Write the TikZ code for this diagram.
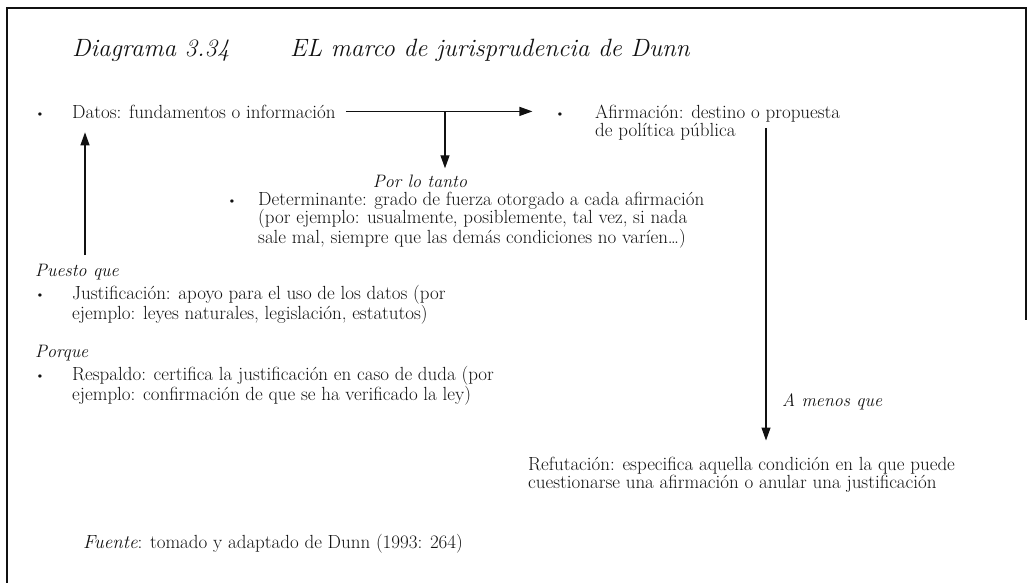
\documentclass[tikz,border=0pt]{standalone}
\usepackage{fontspec}
\usepackage{tikz}
\usetikzlibrary{arrows.meta,calc}
\definecolor{DunnInk}{HTML}{111111}

\begin{document}
\begin{tikzpicture}[
  x=1pt, y=-1pt,
  font=\fontsize{19}{18.5}\selectfont, text=DunnInk,
  itembox/.style={anchor=north west, align=left, inner sep=0pt},
  linebox/.style={anchor=base west, inner sep=0pt},
  lbl/.style={anchor=base west, inner sep=0pt, font=\fontsize{18}{18.5}\selectfont\itshape},
  bul/.style={anchor=base, inner sep=0pt, font=\fontsize{15}{15}\selectfont},
  ttl/.style={anchor=base west, inner sep=0pt, font=\fontsize{25}{28}\selectfont\itshape},
  ra/.style={-{Triangle[length=13pt, width=9pt]}, draw=DunnInk, line width=1.2pt},
  frm/.style={draw=DunnInk, line width=1.3pt}
]
\useasboundingbox (0,0) rectangle (1030,583);
\draw[frm] (7,583) -- (7,8) -- (1026,8) -- (1026,320);
% title
\node[ttl] (titnum) at (72,57) {Diagrama 3.34};
\node[ttl] (titname) at (290,57) {EL marco de jurisprudencia de Dunn};
% items
\node[bul] (bDat) at (40,118) {•};
\node[linebox] (datos) at (72,118) {Datos: fundamentos o información};
\node[bul] (bAf) at (560,118) {•};
\node[itembox] (afirm) at (595,104.5) {Afirmación: destino o propuesta\\de política pública};
\node[lbl, anchor=base] (tanto) at (420,187) {Por lo tanto};
\node[bul] (bDet) at (232,205) {•};
\node[itembox] (det) at (258,191.5) {Determinante: grado de fuerza otorgado a cada afirmación\\(por ejemplo: usualmente, posiblemente, tal vez, si nada\\sale mal, siempre que las demás condiciones no varíen\dots)};
\node[lbl] (puesto) at (35,276) {Puesto que};
\node[bul] (bJus) at (40,299) {•};
\node[itembox] (just) at (72,285.5) {Justificación: apoyo para el uso de los datos (por\\ejemplo: leyes naturales, legislación, estatutos)};
\node[lbl] (porque) at (35,357) {Porque};
\node[bul] (bRes) at (40,380) {•};
\node[itembox] (resp) at (72,366.5) {Respaldo: certifica la justificación en caso de duda (por\\ejemplo: confirmación de que se ha verificado la ley)};
\node[lbl] (amenos) at (782,406) {A menos que};
\node[itembox] (refut) at (528,456.5) {Refutación: especifica aquella condición en la que puede\\cuestionarse una afirmación o anular una justificación};
\node[linebox] (fuente) at (83,548) {\textit{Fuente}: tomado y adaptado de Dunn (1993: 264)};
% connectors
\coordinate (fork) at (445,112);
\coordinate (upfoot) at (85,255);
\coordinate (rtop) at (766,128);
\draw[ra] ([xshift=10pt]datos.east) -- ([xshift=-22pt]datos.east -| bAf.west);
\draw[ra] (fork) -- ($(fork |- tanto.north)+(0,-6)$);
\draw[ra] (upfoot) -- ($(upfoot |- datos.south)+(0,14)$);
\draw[ra] (rtop) -- ($(rtop |- refut.north)+(0,-16)$);
\end{tikzpicture}
\end{document}
